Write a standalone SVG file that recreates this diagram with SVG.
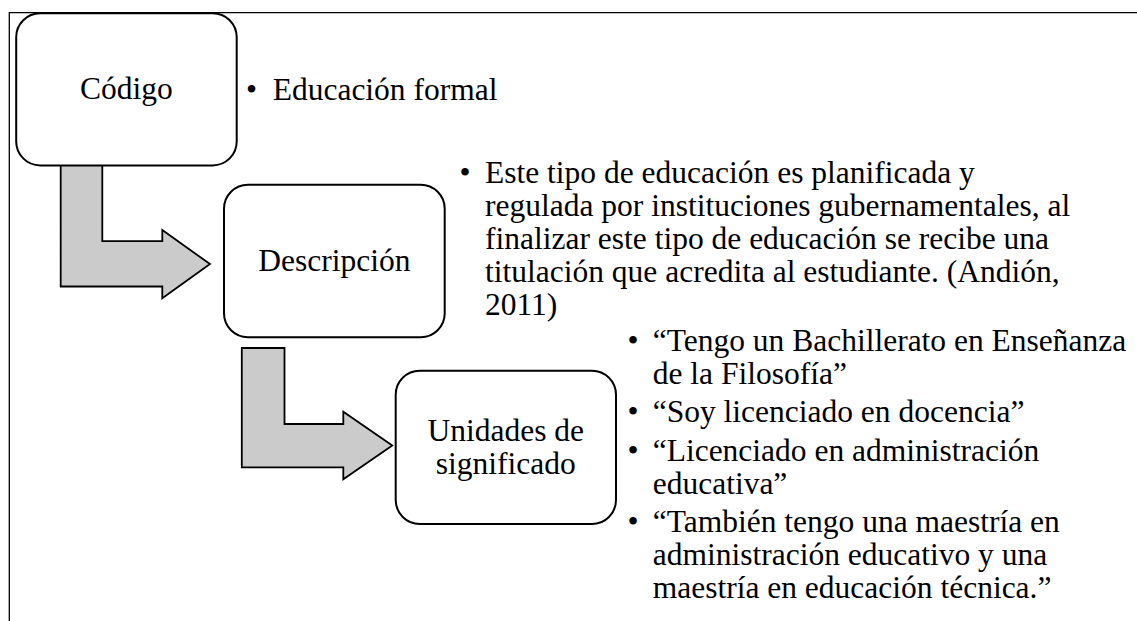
<svg xmlns="http://www.w3.org/2000/svg" width="1137" height="621" viewBox="0 0 1137 621">
  <style>
    text { font-family: "Liberation Serif", "Times New Roman", serif; font-size: 31.5px; fill: #000; }
    .box { fill: #ffffff; stroke: #000; stroke-width: 2; }
    .arrow { fill: #cbcbcb; stroke: #000; stroke-width: 1.8; stroke-linejoin: miter; }
    .frame { fill: none; stroke: #000; stroke-width: 1.3; }
    .c { text-anchor: middle; }
  </style>
  <rect width="1137" height="621" fill="#ffffff"/>
  <g id="frame">
    <polyline class="frame" points="9.3,621 9.3,12.7 1137,12.7"/>
  </g>
  <g id="connectors">
    <path class="arrow" d="M 60.7 165 L 102.3 165 L 102.3 241.2 L 162.3 241.2 L 162.3 230 L 210 264.1 L 162.3 298.3 L 162.3 286.5 L 60.7 286.5 Z"/>
    <path class="arrow" d="M 241.8 348 L 284.5 348 L 284.5 424 L 343.3 424 L 343.3 411.7 L 392.3 445.6 L 343.3 479.3 L 343.3 467.3 L 241.8 467.3 Z"/>
  </g>
  <g id="node-codigo">
    <rect class="box" x="16.2" y="13.2" width="220.5" height="152.2" rx="24" ry="24"/>
    <text class="c" x="126.5" y="99">Código</text>
  </g>
  <g id="node-descripcion">
    <rect class="box" x="224" y="184.7" width="220.7" height="152.6" rx="24" ry="24"/>
    <text class="c" x="334.3" y="270.7">Descripción</text>
  </g>
  <g id="node-unidades">
    <rect class="box" x="395.7" y="370.7" width="220.3" height="153.3" rx="24" ry="24"/>
    <text class="c" x="505.8" y="440.7">Unidades de</text>
    <text class="c" x="505.8" y="473.5">significado</text>
  </g>
  <g id="text-codigo">
    <text class="c" x="251.5" y="99.7">•</text>
    <text x="272.7" y="99.7">Educación formal</text>
  </g>
  <g id="text-descripcion">
    <text class="c" x="465" y="183">•</text>
    <text x="485" y="183">Este tipo de educación es planificada y</text>
    <text x="485" y="216">regulada por instituciones gubernamentales, al</text>
    <text x="485" y="249">finalizar este tipo de educación se recibe una</text>
    <text x="485" y="282">titulación que acredita al estudiante. (Andión,</text>
    <text x="485" y="315">2011)</text>
  </g>
  <g id="text-unidades">
    <text class="c" x="633" y="351">•</text>
    <text x="652.7" y="351">“Tengo un Bachillerato en Enseñanza</text>
    <text x="652.7" y="384">de la Filosofía”</text>
    <text class="c" x="633" y="422">•</text>
    <text x="652.7" y="422">“Soy licenciado en docencia”</text>
    <text class="c" x="633" y="460.5">•</text>
    <text x="652.7" y="460.5">“Licenciado en administración</text>
    <text x="652.7" y="493.5">educativa”</text>
    <text class="c" x="633" y="532">•</text>
    <text x="652.7" y="532">“También tengo una maestría en</text>
    <text x="652.7" y="565">administración educativo y una</text>
    <text x="652.7" y="598">maestría en educación técnica.”</text>
  </g>
</svg>
